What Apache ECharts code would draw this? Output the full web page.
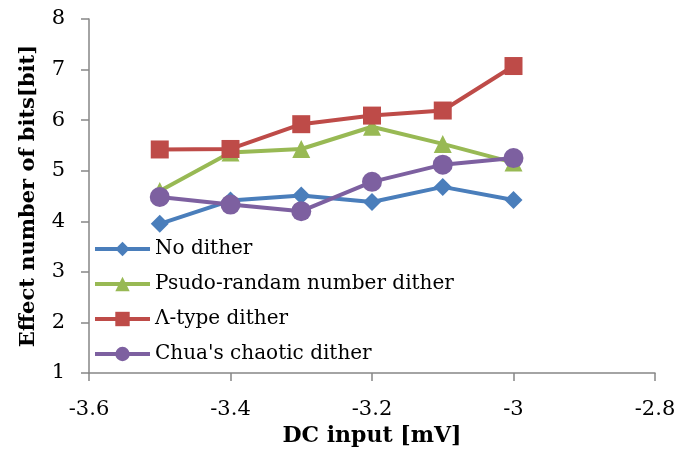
<!DOCTYPE html>
<html><head><meta charset="utf-8">
<script src="https://cdn.jsdelivr.net/npm/echarts@6/dist/echarts.min.js"></script>
<style>html,body{margin:0;padding:0;background:#fff}#c{width:694px;height:452px}</style>
</head><body><div id="c"></div>
<script>
const xValues = [-3.5, -3.4, -3.3, -3.2, -3.1, -3.0];
const noDither = [3.95, 4.41, 4.51, 4.38, 4.68, 4.42];
const pseudoRandom = [4.60, 5.36, 5.43, 5.87, 5.53, 5.16];
const lambdaType = [5.42, 5.43, 5.92, 6.09, 6.19, 7.07];
const chua = [4.48, 4.33, 4.20, 4.78, 5.12, 5.25];
const seriesNames = ['No dither', 'Psudo-randam number dither', 'Λ-type dither', "Chua's chaotic dither"];
const xTicks = ['-3.6', '-3.4', '-3.2', '-3', '-2.8'];

const font = '"DejaVu Serif","Liberation Serif",serif';
function mk(name, data, color, symbol, size) {
  return {
    name: name, type: 'line', data: data.map((v, i) => [xValues[i], v]),
    symbol: symbol, symbolSize: size,
    lineStyle: {color: color, width: 4},
    itemStyle: {color: color},
    z: 2
  };
}
const chart = echarts.init(document.getElementById('c'), null, {renderer: 'canvas'});
chart.setOption({
  animation: false,
  grid: {left: 89, right: 39, top: 19, bottom: 79, containLabel: false},
  xAxis: {
    type: 'value', min: -3.6, max: -2.8, interval: 0.2,
    name: 'DC input [mV]', nameLocation: 'middle', nameGap: 52,
    nameTextStyle: {fontFamily: font, fontSize: 22, fontWeight: 'bold', color: '#000'},
    axisLine: {lineStyle: {color: '#868686', width: 1.5}},
    axisTick: {show: true, length: 8, lineStyle: {color: '#868686', width: 1.5}},
    axisLabel: {fontFamily: font, fontSize: 21, color: '#000', margin: 26,
      formatter: v => { const s = xTicks.find(t => Math.abs(parseFloat(t) - v) < 1e-6); return s !== undefined ? s : ''; }},
    splitLine: {show: false}
  },
  yAxis: {
    type: 'value', min: 1, max: 8, interval: 1,
    name: 'Effect number of bits[bit]', nameLocation: 'middle', nameGap: 50,
    nameTextStyle: {fontFamily: font, fontSize: 21, fontWeight: 'bold', color: '#000'},
    axisLine: {show: true, lineStyle: {color: '#868686', width: 1.5}},
    axisTick: {show: true, length: 8, lineStyle: {color: '#868686', width: 1.5}},
    axisLabel: {fontFamily: font, fontSize: 21, color: '#000', margin: 24},
    splitLine: {show: false}
  },
  legend: {
    orient: 'vertical', left: 93, top: 239, itemGap: 15, padding: 0,
    itemWidth: 55, itemHeight: 18,
    lineStyle: {width: 4},
    textStyle: {fontFamily: font, fontSize: 20, color: '#000', lineHeight: 20},
    data: seriesNames
  },
  series: [
    mk(seriesNames[0], noDither, '#4A7EBB', 'diamond', 18),
    mk(seriesNames[1], pseudoRandom, '#98B954', 'triangle', 18),
    mk(seriesNames[2], lambdaType, '#BE4B48', 'rect', 18),
    mk(seriesNames[3], chua, '#7D60A0', 'circle', 20)
  ]
});
</script></body></html>
